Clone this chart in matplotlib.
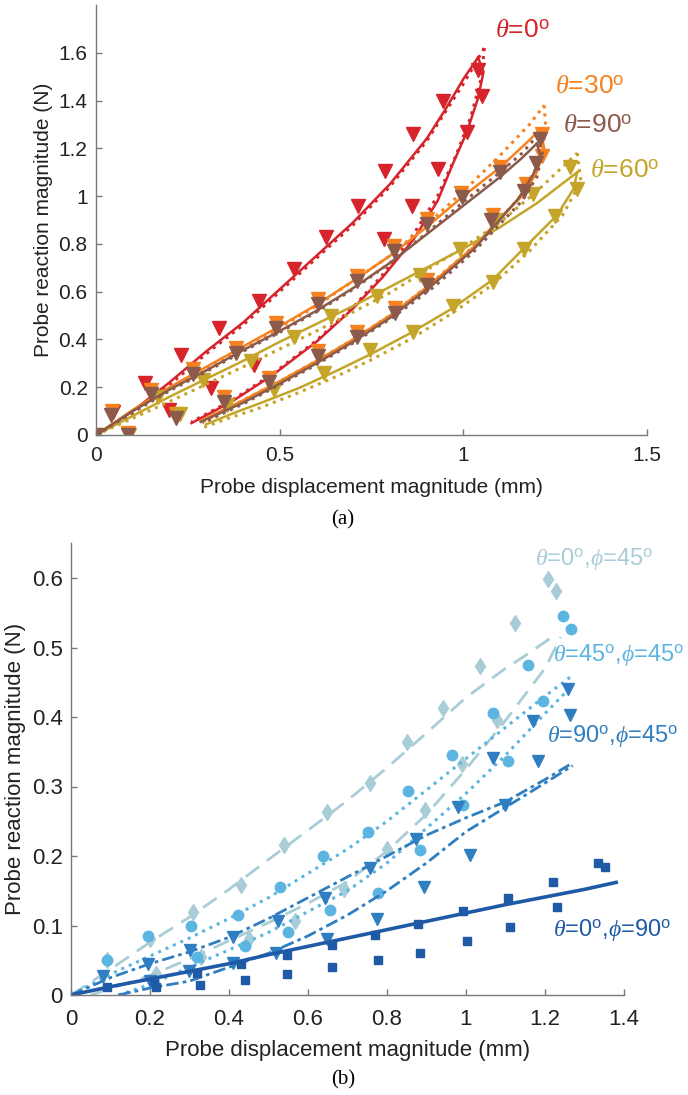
import numpy as np
import matplotlib
matplotlib.use("Agg")
import matplotlib.pyplot as plt
from matplotlib.ticker import FuncFormatter

plt.rcParams["font.family"] = ["Liberation Sans", "DejaVu Sans"]
plt.rcParams["mathtext.fontset"] = "custom"
plt.rcParams["mathtext.rm"] = "Liberation Sans"
plt.rcParams["mathtext.it"] = "Liberation Serif:italic"

# ---------------- panel (a): theta sweep ----------------
# theta = 0 (red)
red_load_x = [0, 0.1, 0.2, 0.3, 0.4, 0.5, 0.6, 0.7, 0.8, 0.9, 0.95, 1.0, 1.04]
red_load_y = [0, 0.10, 0.22, 0.35, 0.47, 0.61, 0.75, 0.89, 1.05, 1.24, 1.36, 1.49, 1.58]
red_unl_x = [1.04, 1.055, 1.04, 1.01, 0.97, 0.93, 0.865, 0.78, 0.70, 0.60, 0.48, 0.37, 0.26]
red_unl_y = [1.58, 1.52, 1.41, 1.27, 1.13, 0.98, 0.82, 0.66, 0.53, 0.39, 0.25, 0.14, 0.05]
red_dload_x = [0, 0.1, 0.2, 0.3, 0.4, 0.5, 0.6, 0.7, 0.8, 0.9, 1.0, 1.057]
red_dload_y = [0, 0.09, 0.21, 0.34, 0.46, 0.60, 0.74, 0.88, 1.04, 1.23, 1.47, 1.62]
red_dunl_x = [1.057, 1.05, 1.02, 0.98, 0.93, 0.86, 0.78, 0.70, 0.60, 0.48, 0.37, 0.26]
red_dunl_y = [1.62, 1.50, 1.33, 1.17, 1.00, 0.83, 0.67, 0.535, 0.395, 0.255, 0.145, 0.055]
red_mx = [0.045, 0.133, 0.231, 0.334, 0.443, 0.538, 0.625, 0.712, 0.788, 0.864, 0.946, 1.04,
          1.051, 1.01, 0.932, 0.86, 0.783, 0.43, 0.313, 0.198]
red_my = [0.098, 0.218, 0.336, 0.449, 0.559, 0.693, 0.827, 0.958, 1.105, 1.26, 1.40, 1.53,
          1.42, 1.27, 1.113, 0.96, 0.82, 0.295, 0.197, 0.105]

# theta = 30 (orange)
or_load_x = [0, 0.1, 0.2, 0.3, 0.4, 0.5, 0.6, 0.7, 0.8, 0.9, 1.0, 1.1, 1.17, 1.21]
or_load_y = [0, 0.105, 0.20, 0.285, 0.37, 0.455, 0.545, 0.645, 0.75, 0.87, 1.0, 1.12, 1.22, 1.28]
or_unl_x = [1.21, 1.22, 1.20, 1.16, 1.11, 1.03, 0.91, 0.80, 0.70, 0.60, 0.50, 0.40, 0.285]
or_unl_y = [1.28, 1.20, 1.10, 1.0, 0.925, 0.79, 0.63, 0.50, 0.40, 0.31, 0.225, 0.145, 0.06]
or_dload_x = [0, 0.2, 0.4, 0.6, 0.8, 0.9, 1.0, 1.1, 1.18, 1.22]
or_dload_y = [0, 0.19, 0.36, 0.54, 0.75, 0.88, 1.02, 1.17, 1.30, 1.38]
or_dunl_x = [1.22, 1.225, 1.20, 1.15, 1.08, 1.0, 0.9, 0.8, 0.7, 0.6, 0.5, 0.4, 0.29]
or_dunl_y = [1.38, 1.27, 1.12, 0.99, 0.87, 0.75, 0.62, 0.50, 0.40, 0.31, 0.225, 0.145, 0.055]
or_mx = [0.043, 0.15, 0.265, 0.38, 0.49, 0.605, 0.711, 0.81, 0.90, 0.995, 1.10, 1.215,
         1.215, 1.17, 1.08, 0.90, 0.815, 0.711, 0.603, 0.47, 0.349, 0.217, 0.086]
or_my = [0.10, 0.19, 0.275, 0.365, 0.47, 0.57, 0.665, 0.79, 0.905, 1.015, 1.12, 1.26,
         1.17, 1.05, 0.92, 0.65, 0.53, 0.43, 0.35, 0.24, 0.16, 0.09, 0.01]

# theta = 60 (olive)
ol_load_x = [0, 0.1, 0.2, 0.3, 0.4, 0.5, 0.6, 0.7, 0.8, 0.9, 1.0, 1.1, 1.2, 1.31]
ol_load_y = [0, 0.08, 0.16, 0.235, 0.31, 0.39, 0.465, 0.54, 0.62, 0.70, 0.78, 0.87, 0.97, 1.10]
ol_unl_x = [1.31, 1.30, 1.255, 1.164, 1.08, 0.97, 0.86, 0.75, 0.65, 0.55, 0.45, 0.38, 0.30]
ol_unl_y = [1.10, 1.03, 0.92, 0.78, 0.65, 0.53, 0.43, 0.34, 0.265, 0.195, 0.135, 0.095, 0.045]
ol_dload_x = [0, 0.2, 0.4, 0.6, 0.8, 1.0, 1.1, 1.2, 1.31]
ol_dload_y = [0, 0.14, 0.285, 0.435, 0.595, 0.785, 0.89, 1.02, 1.18]
ol_dunl_x = [1.31, 1.32, 1.27, 1.18, 1.08, 0.97, 0.86, 0.75, 0.64, 0.54, 0.44, 0.36, 0.29]
ol_dunl_y = [1.18, 1.06, 0.92, 0.77, 0.63, 0.51, 0.405, 0.315, 0.235, 0.17, 0.11, 0.07, 0.03]
ol_mx = [0.0, 0.168, 0.29, 0.421, 0.539, 0.639, 0.766, 0.883, 0.99, 1.09, 1.19, 1.29,
         1.31, 1.25, 1.164, 1.082, 0.973, 0.864, 0.747, 0.62, 0.485, 0.357, 0.23, 0.09]
ol_my = [0.0, 0.16, 0.23, 0.31, 0.41, 0.497, 0.58, 0.67, 0.78, 0.90, 1.01, 1.12,
         1.03, 0.917, 0.777, 0.64, 0.54, 0.43, 0.355, 0.26, 0.19, 0.126, 0.09, 0.0]

# theta = 90 (brown)
br_load_x = [0, 0.1, 0.2, 0.3, 0.4, 0.5, 0.6, 0.7, 0.8, 0.9, 1.0, 1.1, 1.16, 1.2]
br_load_y = [0, 0.10, 0.19, 0.27, 0.355, 0.435, 0.52, 0.615, 0.72, 0.84, 0.96, 1.08, 1.16, 1.22]
br_unl_x = [1.2, 1.21, 1.19, 1.15, 1.11, 1.03, 0.91, 0.80, 0.70, 0.60, 0.50, 0.40, 0.285]
br_unl_y = [1.22, 1.17, 1.09, 0.99, 0.92, 0.78, 0.62, 0.49, 0.39, 0.30, 0.215, 0.135, 0.055]
br_dload_x = [0, 0.1, 0.2, 0.3, 0.4, 0.5, 0.6, 0.7, 0.8, 0.9, 1.0, 1.1, 1.16, 1.2]
br_dload_y = [0, 0.095, 0.185, 0.265, 0.35, 0.43, 0.515, 0.61, 0.72, 0.845, 0.975, 1.10, 1.18, 1.25]
br_dunl_x = [1.2, 1.215, 1.20, 1.16, 1.11, 1.03, 0.92, 0.81, 0.70, 0.60, 0.50, 0.40, 0.29]
br_dunl_y = [1.25, 1.18, 1.08, 0.98, 0.90, 0.77, 0.62, 0.495, 0.385, 0.295, 0.21, 0.13, 0.05]
br_mx = [0.0, 0.041, 0.149, 0.263, 0.38, 0.49, 0.603, 0.711, 0.81, 0.901, 0.996, 1.10, 1.21,
         1.198, 1.164, 1.075, 0.90, 0.815, 0.711, 0.603, 0.47, 0.349, 0.217, 0.086]
br_my = [0.0, 0.085, 0.17, 0.255, 0.345, 0.45, 0.55, 0.645, 0.77, 0.885, 0.995, 1.10, 1.24,
         1.14, 1.02, 0.90, 0.63, 0.51, 0.41, 0.33, 0.22, 0.14, 0.07, 0.0]

# ---------------- panel (b): phi sweep ----------------
# theta=0, phi=45 (pale, diamonds, dashed)
s1_up_x = [0, 0.1, 0.2, 0.3, 0.4, 0.5, 0.6, 0.7, 0.8, 0.9, 1.0, 1.1, 1.16, 1.23]
s1_up_y = [0, 0.037, 0.076, 0.112, 0.152, 0.195, 0.237, 0.28, 0.327, 0.377, 0.428, 0.47, 0.492, 0.52]
s1_lo_x = [0.05, 0.2, 0.3, 0.4, 0.5, 0.6, 0.7, 0.8, 0.9, 1.0, 1.1, 1.2, 1.24]
s1_lo_y = [0.0, 0.028, 0.052, 0.078, 0.104, 0.132, 0.163, 0.207, 0.26, 0.325, 0.395, 0.47, 0.515]
s1_mx = [0.09, 0.2, 0.31, 0.43, 0.54, 0.647, 0.757, 0.85, 0.943, 1.035, 1.124, 1.208, 1.228,
         0.215, 0.33, 0.45, 0.567, 0.69, 0.80, 0.896, 0.989, 1.078]
s1_my = [0.05, 0.08, 0.12, 0.158, 0.216, 0.264, 0.305, 0.364, 0.413, 0.474, 0.535, 0.598, 0.581,
         0.03, 0.055, 0.08, 0.106, 0.152, 0.21, 0.266, 0.333, 0.396]

# theta=45, phi=45 (light blue, circles, dotted)
s2_up_x = [0, 0.1, 0.2, 0.3, 0.4, 0.5, 0.6, 0.7, 0.8, 0.9, 1.0, 1.1, 1.2, 1.27]
s2_up_y = [0, 0.03, 0.056, 0.082, 0.11, 0.14, 0.175, 0.21, 0.25, 0.295, 0.34, 0.385, 0.43, 0.46]
s2_lo_x = [0.12, 0.2, 0.3, 0.4, 0.5, 0.6, 0.7, 0.8, 0.9, 1.0, 1.1, 1.2, 1.26]
s2_lo_y = [0.0, 0.015, 0.04, 0.065, 0.09, 0.12, 0.15, 0.19, 0.24, 0.29, 0.345, 0.405, 0.44]
s2_mx = [0.09, 0.196, 0.305, 0.424, 0.529, 0.639, 0.753, 0.854, 0.964, 1.069, 1.158, 1.246, 1.267,
         0.32, 0.44, 0.55, 0.656, 0.778, 0.884, 0.993, 1.107, 1.196]
s2_my = [0.05, 0.085, 0.10, 0.115, 0.155, 0.20, 0.235, 0.293, 0.346, 0.406, 0.475, 0.545, 0.526,
         0.055, 0.07, 0.09, 0.123, 0.147, 0.209, 0.274, 0.336, 0.423]

# theta=90, phi=45 (blue, triangles, dash-dot)
s3_up_x = [0, 0.1, 0.2, 0.3, 0.4, 0.5, 0.6, 0.7, 0.8, 0.9, 1.0, 1.1, 1.2, 1.27]
s3_up_y = [0, 0.025, 0.045, 0.062, 0.083, 0.11, 0.14, 0.17, 0.2, 0.23, 0.255, 0.278, 0.31, 0.334]
s3_lo_x = [0.12, 0.2, 0.3, 0.4, 0.5, 0.6, 0.7, 0.8, 0.9, 1.0, 1.1, 1.2, 1.27]
s3_lo_y = [0.0, 0.01, 0.02, 0.04, 0.06, 0.085, 0.115, 0.15, 0.19, 0.235, 0.27, 0.305, 0.33]
s3_mx = [0.08, 0.196, 0.301, 0.41, 0.525, 0.643, 0.757, 0.873, 0.981, 1.069, 1.17, 1.259,
         0.20, 0.30, 0.41, 0.52, 0.647, 0.774, 0.894, 1.01, 1.099, 1.183, 1.263]
s3_my = [0.028, 0.044, 0.065, 0.083, 0.106, 0.14, 0.183, 0.225, 0.271, 0.341, 0.394, 0.44,
         0.02, 0.035, 0.046, 0.06, 0.08, 0.11, 0.155, 0.202, 0.274, 0.336, 0.403]

# theta=0, phi=90 (dark blue, squares, solid)
s4_x = [0, 0.1, 0.2, 0.3, 0.4, 0.5, 0.6, 0.7, 0.8, 0.9, 1.0, 1.1, 1.2, 1.3, 1.38]
s4_y = [0, 0.012, 0.023, 0.034, 0.045, 0.058, 0.07, 0.082, 0.094, 0.106, 0.118, 0.13, 0.141, 0.152, 0.162]
s4_mx = [0.09, 0.21, 0.32, 0.43, 0.546, 0.66, 0.77, 0.879, 0.993, 1.107, 1.221, 1.335, 1.352,
         0.215, 0.327, 0.44, 0.546, 0.662, 0.778, 0.884, 1.002, 1.111, 1.23]
s4_my = [0.012, 0.02, 0.032, 0.045, 0.058, 0.072, 0.086, 0.102, 0.121, 0.14, 0.163, 0.19, 0.184,
         0.012, 0.015, 0.022, 0.03, 0.04, 0.051, 0.06, 0.077, 0.098, 0.127]

RED, ORANGE, OLIVE, BROWN = "#d7232b", "#f5821f", "#c4a52a", "#8c5a4b"
PALE, LBLUE, MBLUE, DBLUE = "#a9cdd7", "#5cb5e1", "#2f7ec1", "#1f5aa6"
SPINE = "#7a7a7a"

fmt = FuncFormatter(lambda v, p: f"{v:g}")


def style_axes(ax, fs, xpad):
    for s in ("top", "right"):
        ax.spines[s].set_visible(False)
    for s in ("left", "bottom"):
        ax.spines[s].set_color(SPINE)
        ax.spines[s].set_linewidth(1.0)
    ax.tick_params(direction="in", length=4, width=1, color=SPINE,
                   labelsize=fs, labelcolor="#222222")
    ax.tick_params(axis="x", pad=xpad)
    ax.tick_params(axis="y", pad=6)
    ax.xaxis.set_major_formatter(fmt)
    ax.yaxis.set_major_formatter(fmt)


fig = plt.figure(figsize=(6.88, 10.95), dpi=100)

# ---- (a) ----
ax = fig.add_axes([96 / 688, 1 - 435 / 1095, 551 / 688, 430 / 1095])
lw = 1.8
for c, lx, ly, ux, uy, dlx, dly, dux, duy, mx, my in [
        (RED, red_load_x, red_load_y, red_unl_x, red_unl_y,
         red_dload_x, red_dload_y, red_dunl_x, red_dunl_y, red_mx, red_my),
        (ORANGE, or_load_x, or_load_y, or_unl_x, or_unl_y,
         or_dload_x, or_dload_y, or_dunl_x, or_dunl_y, or_mx, or_my),
        (OLIVE, ol_load_x, ol_load_y, ol_unl_x, ol_unl_y,
         ol_dload_x, ol_dload_y, ol_dunl_x, ol_dunl_y, ol_mx, ol_my),
        (BROWN, br_load_x, br_load_y, br_unl_x, br_unl_y,
         br_dload_x, br_dload_y, br_dunl_x, br_dunl_y, br_mx, br_my)]:
    ax.plot(lx, ly, "-", color=c, lw=lw)
    ax.plot(ux, uy, "-", color=c, lw=lw)
    ax.plot(dlx, dly, ":", color=c, lw=2.2)
    ax.plot(dux, duy, ":", color=c, lw=2.2)
    ax.plot(mx, my, "v", color=c, ms=10.5, mec=c, ls="none")

ax.set_xlim(0, 1.5)
ax.set_ylim(0, 1.8)
ax.set_xticks([0, 0.5, 1, 1.5])
ax.set_yticks(np.arange(0, 1.61, 0.2))
style_axes(ax, 15, 8)
ax.set_xlabel("Probe displacement magnitude (mm)", fontsize=15, color="#222222", labelpad=9)
ax.set_ylabel("Probe reaction magnitude (N)", fontsize=15, color="#222222")

lab_fs = 19
ax.text(1.085, 1.69, r"$\theta$=0$^{\rm o}$", color=RED, fontsize=lab_fs, va="center")
ax.text(1.25, 1.458, r"$\theta$=30$^{\rm o}$", color=ORANGE, fontsize=lab_fs, va="center")
ax.text(1.272, 1.294, r"$\theta$=90$^{\rm o}$", color=BROWN, fontsize=lab_fs, va="center")
ax.text(1.346, 1.105, r"$\theta$=60$^{\rm o}$", color=OLIVE, fontsize=lab_fs, va="center")

fig.text(343 / 688, 1 - 520 / 1095, "(a)", family="Liberation Serif",
         fontsize=15, ha="center", va="center")

# ---- (b) ----
bx = fig.add_axes([71 / 688, 1 - 995 / 1095, 553 / 688, 0.65 * 695 / 1095])
bx.plot(s1_up_x, s1_up_y, color=PALE, lw=2, dashes=(6, 3.5))
bx.plot(s1_lo_x, s1_lo_y, color=PALE, lw=2, dashes=(6, 3.5))
bx.plot(s1_mx, s1_my, "d", color=PALE, ms=8, ls="none")
bx.plot(s2_up_x, s2_up_y, ":", color=LBLUE, lw=2.2)
bx.plot(s2_lo_x, s2_lo_y, ":", color=LBLUE, lw=2.2)
bx.plot(s2_mx, s2_my, "o", color=LBLUE, ms=7.5, ls="none")
bx.plot(s3_up_x, s3_up_y, color=MBLUE, lw=2, dashes=(4.5, 1.5, 1.3, 1.5))
bx.plot(s3_lo_x, s3_lo_y, color=MBLUE, lw=2, dashes=(4.5, 1.5, 1.3, 1.5))
bx.plot(s3_mx, s3_my, "v", color=MBLUE, ms=8.5, ls="none")
bx.plot(s4_x, s4_y, "-", color=DBLUE, lw=2.6)
bx.plot(s4_mx, s4_my, "s", color=DBLUE, ms=6, ls="none")

bx.set_xlim(0, 1.4)
bx.set_ylim(0, 0.65)
bx.set_xticks(np.arange(0, 1.41, 0.2))
bx.set_yticks(np.arange(0, 0.61, 0.1))
style_axes(bx, 16, 10)
bx.set_xlabel("Probe displacement magnitude (mm)", fontsize=16, color="#222222", labelpad=7)
bx.set_ylabel("Probe reaction magnitude (N)", fontsize=16, color="#222222")

lab_fs = 17
bx.text(1.175, 0.627, r"$\theta$=0$^{\rm o}$,$\phi$=45$^{\rm o}$", color=PALE, fontsize=lab_fs, va="center")
bx.text(1.22, 0.489, r"$\theta$=45$^{\rm o}$,$\phi$=45$^{\rm o}$", color=LBLUE, fontsize=lab_fs, va="center")
bx.text(1.205, 0.372, r"$\theta$=90$^{\rm o}$,$\phi$=45$^{\rm o}$", color=MBLUE, fontsize=lab_fs, va="center")
bx.text(1.22, 0.093, r"$\theta$=0$^{\rm o}$,$\phi$=90$^{\rm o}$", color=DBLUE, fontsize=lab_fs, va="center")

fig.text(343 / 688, 1 - 1080 / 1095, "(b)", family="Liberation Serif",
         fontsize=15, ha="center", va="center")

fig.savefig("out.png", dpi=100)
